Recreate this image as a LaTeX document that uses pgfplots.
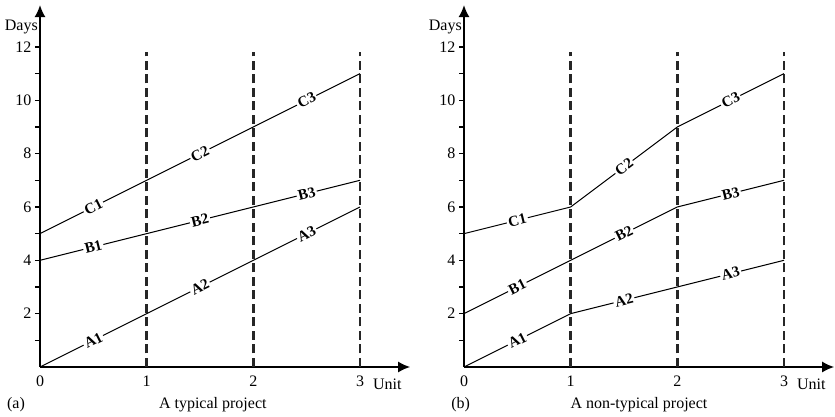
\documentclass[border=0pt]{standalone}
\usepackage{pgfplots}
\pgfplotsset{compat=1.18}
\usepackage{fontspec}
\setmainfont{Liberation Serif}
\usetikzlibrary{arrows.meta}
\pgfplotsset{
  panel/.style={
    scale only axis, x=106.67pt, y=26.67pt,
    xmin=0, xmax=3.47, ymin=0, ymax=13.57,
    axis x line=bottom, axis y line=left,
    axis line style={line width=1.5pt, -{Latex[length=12pt,width=11pt]}},
    xtick={0,1,2,3}, xtick style={draw=none},
    ytick={2,4,6,8,10,12}, minor ytick={1,3,5,7,9,11},
    tick align=outside, major tick length=5pt, minor tick length=5pt,
    ytick style={line width=1.2pt, black},
    minor tick style={line width=1.2pt, black},
    tick label style={font=\fontsize{16}{19}\selectfont},
    /pgf/number format/assume math mode=true,
    clip=false,
    anchor=south west,
  },
}
\tikzset{
  dataline/.style={black, line width=1pt},
  dashline/.style={black!85, line width=2.7pt, dash pattern=on 9pt off 4.5pt},
  lab/.style={font=\fontsize{15}{18}\selectfont\bfseries, fill=white, inner sep=1.5pt, sloped},
  txt/.style={font=\fontsize{16}{19}\selectfont, inner sep=0pt},
}
\begin{document}
\begin{tikzpicture}
\useasboundingbox (0,0) rectangle (835pt,417pt);
% ---------- (a) ----------
\begin{axis}[panel, at={(40pt,50pt)}]
\addplot[dashline, no marks] coordinates {(1,0) (1,11.8)};
\addplot[dashline, no marks] coordinates {(2,0) (2,11.8)};
\addplot[dashline, no marks] coordinates {(3,0) (3,11.8)};
\addplot[dataline, no marks] coordinates {(0,0) (1,2) (2,4) (3,6)};
\addplot[dataline, no marks] coordinates {(0,4) (1,5) (2,6) (3,7)};
\addplot[dataline, no marks] coordinates {(0,5) (1,7) (2,9) (3,11)};
\path (axis cs:0,0) -- (axis cs:1,2) node[midway,lab] {A1};
\path (axis cs:1,2) -- (axis cs:2,4) node[midway,lab] {A2};
\path (axis cs:2,4) -- (axis cs:3,6) node[midway,lab] {A3};
\path (axis cs:0,4) -- (axis cs:1,5) node[midway,lab] {B1};
\path (axis cs:1,5) -- (axis cs:2,6) node[midway,lab] {B2};
\path (axis cs:2,6) -- (axis cs:3,7) node[midway,lab] {B3};
\path (axis cs:0,5) -- (axis cs:1,7) node[midway,lab] {C1};
\path (axis cs:1,7) -- (axis cs:2,9) node[midway,lab] {C2};
\path (axis cs:2,9) -- (axis cs:3,11) node[midway,lab] {C3};
\node[txt, anchor=base east, xshift=-2pt] at (axis cs:0,12.6) {Days};
\node[txt, anchor=base west, yshift=-23pt] at (axis cs:3.12,0) {Unit};
\node[txt, anchor=base, yshift=-42pt] at (axis cs:1.62,0) {A typical project};
\node[txt, anchor=base west, yshift=-42pt] at (axis cs:-0.31,0) {(a)};
\end{axis}
% ---------- (b) ----------
\begin{axis}[panel, at={(464pt,50pt)}]
\addplot[dashline, no marks] coordinates {(1,0) (1,11.8)};
\addplot[dashline, no marks] coordinates {(2,0) (2,11.8)};
\addplot[dashline, no marks] coordinates {(3,0) (3,11.8)};
\addplot[dataline, no marks] coordinates {(0,0) (1,2) (2,3) (3,4)};
\addplot[dataline, no marks] coordinates {(0,2) (1,4) (2,6) (3,7)};
\addplot[dataline, no marks] coordinates {(0,5) (1,6) (2,9) (3,11)};
\path (axis cs:0,0) -- (axis cs:1,2) node[midway,lab] {A1};
\path (axis cs:1,2) -- (axis cs:2,3) node[midway,lab] {A2};
\path (axis cs:2,3) -- (axis cs:3,4) node[midway,lab] {A3};
\path (axis cs:0,2) -- (axis cs:1,4) node[midway,lab] {B1};
\path (axis cs:1,4) -- (axis cs:2,6) node[midway,lab] {B2};
\path (axis cs:2,6) -- (axis cs:3,7) node[midway,lab] {B3};
\path (axis cs:0,5) -- (axis cs:1,6) node[midway,lab] {C1};
\path (axis cs:1,6) -- (axis cs:2,9) node[midway,lab] {C2};
\path (axis cs:2,9) -- (axis cs:3,11) node[midway,lab] {C3};
\node[txt, anchor=base east, xshift=-2pt] at (axis cs:0,12.6) {Days};
\node[txt, anchor=base west, yshift=-23pt] at (axis cs:3.12,0) {Unit};
\node[txt, anchor=base, yshift=-42pt] at (axis cs:1.64,0) {A non-typical project};
\node[txt, anchor=base west, yshift=-42pt] at (axis cs:-0.12,0) {(b)};
\end{axis}
\end{tikzpicture}
\end{document}
